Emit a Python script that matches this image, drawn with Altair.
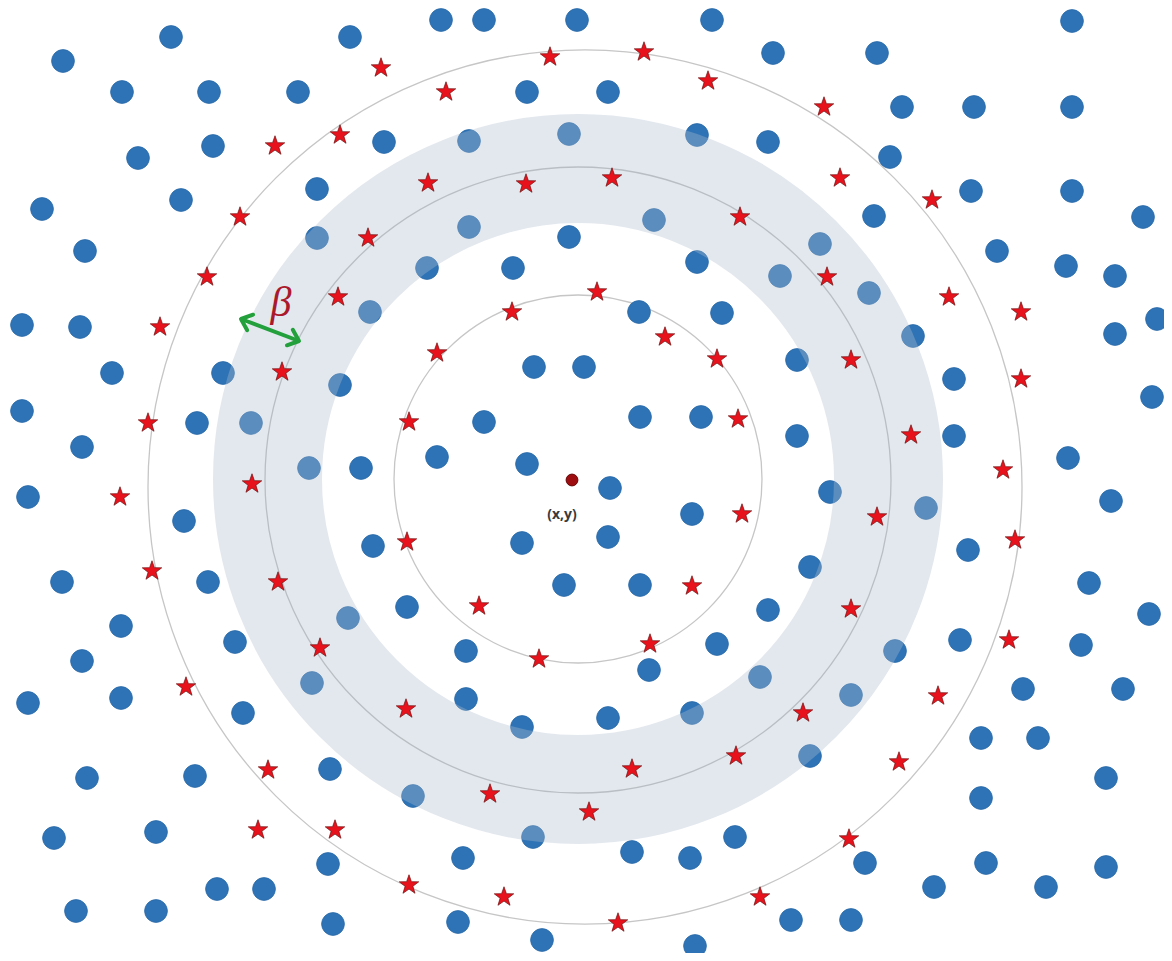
import math
import altair as alt
import pandas as pd

# ---- data (pixel-like units, origin top-left) ----
dot_x = [441, 484, 577, 712, 1072, 171, 350, 63, 773, 877, 122, 209, 298, 527, 608,
         902, 974, 1072, 138, 213, 384, 469, 569, 697, 768, 890, 42, 181, 317, 971, 1072,
         874, 1143, 85, 317, 469, 569, 654, 820, 997, 1066, 1115, 427, 513, 697, 780, 869,
         22, 80, 370, 639, 722, 913, 1115, 1157,
         112, 223, 340, 534, 584, 797, 954, 1152, 22, 197, 251, 484, 640, 701, 797, 954,
         82, 437, 527, 1068, 28, 309, 361, 610, 830, 926, 1111, 184, 692, 522, 608, 373, 968,
         810, 62, 208, 564, 640, 1089, 407, 768, 1149, 121, 348, 235, 466, 717, 960, 1081, 895,
         82, 649, 760,
         121, 28, 312, 466, 851, 1023, 1123, 243, 608, 692, 522, 981, 1038, 810,
         87, 195, 330, 1106, 413, 981, 54, 156, 533, 735, 328, 463, 632, 690, 865, 986, 1106,
         217, 264, 934, 1046, 76, 156, 333, 458, 542, 695, 791, 851]
dot_y = [20, 20, 20, 20, 21, 37, 37, 61, 53, 53, 92, 92, 92, 92, 92,
         107, 107, 107, 158, 146, 142, 141, 134, 135, 142, 157, 209, 200, 189, 191, 191,
         216, 217, 251, 238, 227, 237, 220, 244, 251, 266, 276, 268, 268, 262, 276, 293,
         325, 327, 312, 312, 313, 336, 334, 319,
         373, 373, 385, 367, 367, 360, 379, 397, 411, 423, 423, 422, 417, 417, 436, 436,
         447, 457, 464, 458, 497, 468, 468, 488, 492, 508, 501, 521, 514, 543, 537, 546, 550,
         567, 582, 582, 585, 585, 583, 607, 610, 614, 626, 618, 642, 651, 644, 640, 645, 651,
         661, 670, 677,
         698, 703, 683, 699, 695, 689, 689, 713, 718, 713, 727, 738, 738, 756,
         778, 776, 769, 778, 796, 798, 838, 832, 837, 837, 864, 858, 852, 858, 863, 863, 867,
         889, 889, 887, 887, 911, 911, 924, 922, 940, 946, 920, 920]

star_x = [381, 340, 275, 240, 207, 368, 338, 160, 550, 644, 708, 446, 428, 526, 612, 740,
          597, 512, 824, 840, 932, 827, 949, 1021, 282, 148, 252, 120, 152, 278, 320,
          437, 665, 717, 409, 738, 742, 407, 692, 479, 650, 851, 1021, 911, 1003, 877, 1015,
          851, 1009, 186, 268, 258, 335, 539, 406, 736, 632, 490, 589, 409, 504, 618, 760,
          938, 803, 899, 849]
star_y = [68, 135, 146, 217, 277, 238, 297, 327, 57, 52, 81, 92, 183, 184, 178, 217,
          292, 312, 107, 178, 200, 277, 297, 312, 372, 423, 484, 497, 571, 582, 648,
          353, 337, 359, 422, 419, 514, 542, 586, 606, 644, 360, 379, 435, 470, 517, 540,
          609, 640, 687, 770, 830, 830, 659, 709, 756, 769, 794, 812, 885, 897, 923, 897,
          696, 713, 762, 839]

ring_x = [578, 585]          # inner and outer thin circles
ring_y = [479, 487]
ring_r = [184, 437]
mid_x = [578]                # circle inside the shaded band
mid_y = [480]
mid_r = [313]
band_x = [578]
band_y = [479]
band_r_in = [256]
band_r_out = [365]
center_x = [572]
center_y = [480]
center_label = ["(x,y)"]
center_label_x = [562]
center_label_y = [515]
beta_label = ["β"]
beta_x = [281]
beta_y = [303]
arrow_x = [241]
arrow_y = [319]
arrow_x2 = [299]
arrow_y2 = [341]

# ---- helpers ----
XS = alt.Scale(domain=[8, 1164], nice=False, zero=False)
YS = alt.Scale(domain=[8, 953], nice=False, zero=False, reverse=True)


def X(f="x"):
    return alt.X(f"{f}:Q", scale=XS, axis=None)


def Y(f="y"):
    return alt.Y(f"{f}:Q", scale=YS, axis=None)


STAR = ("M0,-1 L0.235,-0.324 L0.951,-0.309 L0.380,0.124 L0.588,0.809 L0,0.4 "
        "L-0.588,0.809 L-0.380,0.124 L-0.951,-0.309 L-0.235,-0.324 Z")
CHEVRON = "M-1,-0.85 L0,0 L-1,0.85"

rings = pd.DataFrame({"x": ring_x, "y": ring_y, "sz": [(2 * r) ** 2 for r in ring_r]})
mid = pd.DataFrame({"x": mid_x, "y": mid_y, "sz": [(2 * r) ** 2 for r in mid_r]})
band = pd.DataFrame({"x": band_x, "y": band_y,
                     "sz": [(a + b) ** 2 for a, b in zip(band_r_in, band_r_out)]})
band_w = band_r_out[0] - band_r_in[0]
dots = pd.DataFrame({"x": dot_x, "y": dot_y})
stars = pd.DataFrame({"x": star_x, "y": star_y})
center = pd.DataFrame({"x": center_x, "y": center_y})
clabel = pd.DataFrame({"x": center_label_x, "y": center_label_y, "t": center_label})
blabel = pd.DataFrame({"x": beta_x, "y": beta_y, "t": beta_label})
arrow = pd.DataFrame({"x": arrow_x, "y": arrow_y, "x2": arrow_x2, "y2": arrow_y2})
ang = math.degrees(math.atan2(arrow_y2[0] - arrow_y[0], arrow_x2[0] - arrow_x[0]))
heads = pd.DataFrame({"x": [arrow_x2[0], arrow_x[0]], "y": [arrow_y2[0], arrow_y[0]],
                      "a": [ang % 360, (ang + 180) % 360]})

ring_layer = alt.Chart(rings).mark_point(
    shape="circle", filled=False, color="#c6c6c6", strokeWidth=1.3, opacity=1
).encode(x=X(), y=Y(), size=alt.Size("sz:Q", scale=None, legend=None))

dot_layer = alt.Chart(dots).mark_point(
    shape="circle", filled=True, color="#2e73b6", size=520, opacity=1,
    stroke="#2a69a8", strokeWidth=0.8
).encode(x=X(), y=Y())

band_layer = alt.Chart(band).mark_point(
    shape="circle", filled=False, color="#afbecd", strokeWidth=band_w,
    opacity=1, strokeOpacity=0.35
).encode(x=X(), y=Y(), size=alt.Size("sz:Q", scale=None, legend=None))

mid_layer = alt.Chart(mid).mark_point(
    shape="circle", filled=False, color="#b9bec4", strokeWidth=1.3, opacity=1
).encode(x=X(), y=Y(), size=alt.Size("sz:Q", scale=None, legend=None))

star_layer = alt.Chart(stars).mark_point(
    shape=STAR, filled=True, fill="#e8121c", stroke="#6e1010", strokeWidth=0.7,
    size=420, opacity=1, fillOpacity=1
).encode(x=X(), y=Y())

center_layer = alt.Chart(center).mark_point(
    shape="circle", filled=True, fill="#9e0e10", stroke="#6a0808", strokeWidth=1,
    size=140, opacity=1
).encode(x=X(), y=Y())

clabel_layer = alt.Chart(clabel).mark_text(
    font="Open Sans", fontSize=14, fontWeight="bold", color="#3a3a3a",
    align="center", baseline="middle"
).encode(x=X(), y=Y(), text="t:N")

blabel_layer = alt.Chart(blabel).mark_text(
    font="Liberation Serif", fontSize=42, fontStyle="italic", color="#aa1a2c",
    align="center", baseline="middle"
).encode(x=X(), y=Y(), text="t:N")

arrow_layer = alt.Chart(arrow).mark_rule(
    color="#23a03c", strokeWidth=4
).encode(x=X(), y=Y(), x2="x2:Q", y2="y2:Q")

head_layer = alt.Chart(heads).mark_point(
    shape=CHEVRON, filled=False, color="#23a03c", strokeWidth=4, size=380,
    opacity=1, strokeCap="round", strokeJoin="round"
).encode(x=X(), y=Y(), angle=alt.Angle("a:Q", scale=None))

chart = alt.layer(
    ring_layer, dot_layer, band_layer, mid_layer, star_layer, center_layer,
    clabel_layer, blabel_layer, arrow_layer, head_layer
).properties(
    width=1156, height=945, padding=0,
    autosize=alt.AutoSizeParams(type="none"),
    background="white"
).configure_view(stroke=None)

chart.save("out.html", embed_options={"renderer": "svg", "actions": False})
